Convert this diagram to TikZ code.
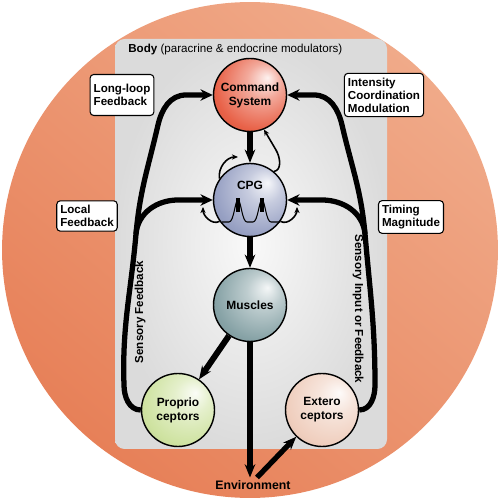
\documentclass[tikz,border=0pt]{standalone}
\usepackage{fontspec}
\setmainfont{Liberation Sans}
\usetikzlibrary{arrows.meta}

\definecolor{orangelight}{RGB}{240,170,137}
\definecolor{orangedark}{RGB}{231,128,88}
\definecolor{cmdred}{RGB}{230,84,56}
\definecolor{cpgblue}{RGB}{142,152,190}
\definecolor{musteal}{RGB}{124,154,158}
\definecolor{progreen}{RGB}{202,224,152}
\definecolor{extpeach}{RGB}{238,202,184}

\colorlet{sphere}{gray}
\pgfdeclareradialshading[sphere]{sphereshade}{\pgfpoint{12bp}{12bp}}{color(0bp)=(sphere!8!white); color(12bp)=(sphere!50!white); color(30bp)=(sphere!92!white); color(46bp)=(sphere!88!black); color(62bp)=(sphere!70!black)}

\begin{document}
\begin{tikzpicture}[x = 0.02cm, y = 0.02cm,
                    organ/.style = {circle, draw, line width = 0.8pt, minimum size = 1.46cm, inner sep = 0pt, align = center, font = \fontsize{6.8}{7.9}\selectfont\bfseries, shade, shading = sphereshade},
                    sphere color/.code = {\colorlet{sphere}{#1}},
                    tag/.style = {draw, fill = white, rounded corners = 2pt, line width = 0.6pt, align = left, inner xsep = 2pt, inner ysep = 2.5pt, font = \fontsize{6.6}{7.4}\selectfont\bfseries},
                    side text/.style = {inner sep = 0pt, font = \fontsize{6.6}{7.4}\selectfont\bfseries},
                    feedline/.style = {line width = 3pt, -{Stealth[length = 7pt, width = 6.5pt]}},
                    mainline/.style = {line width = 3pt, -{Stealth[length = 7.5pt, width = 6pt]}},
                    selfline/.style = {line width = 0.9pt, -{Stealth[length = 3.5pt, width = 3pt]}}]
                          \useasboundingbox (0,0) rectangle (500,500);
                          \shade [top color = orangelight, bottom color = orangedark, shading angle = -40] (250,250) circle (4.96cm);
                          \shade [inner color = gray!5, outer color = gray!28, rounded corners = 5.5pt] (115,51) rectangle (387,461);
                          \node (body)[anchor = west, inner sep = 0pt, font = \fontsize{6.6}{7.4}\selectfont] at (128,450) {\textbf{Body} (paracrine \& endocrine modulators)};
                          \node (cmd)[organ, sphere color = cmdred] at (250,405) {Command\\System};
                          \node (cpg)[organ, sphere color = cpgblue] at (250,300) {};
                          \node (cpgtext)[side text, font = \fontsize{6.8}{7.9}\selectfont\bfseries] at (250,315) {CPG};
                          \node (mus)[organ, sphere color = musteal] at (250,195) {Muscles};
                          \node (pro)[organ, sphere color = progreen] at (178,90) {Proprio\\ceptors};
                          \node (ext)[organ, sphere color = extpeach] at (322,90) {Extero\\ceptors};
                          \node (env)[side text, font = \fontsize{7}{8}\selectfont\bfseries, inner sep = 1.5pt] at (253,15) {Environment};
                          \node (llf)[tag, minimum height = 0.82cm] at (122,405) {Long-loop\\Feedback};
                          \node (lof)[tag] at (87,284) {Local\\Feedback};
                          \node (icm)[tag] at (384,405) {Intensity\\Coordination\\Modulation};
                          \node (tim)[tag] at (411,283) {Timing\\Magnitude};
                          \node (sfb)[side text, rotate = 90] at (140,188) {Sensory Feedback};
                          \node (sif)[side text, rotate = -90] at (358,191) {Sensory Input or Feedback};
                          \coordinate (lj) at (136,266);
                          \coordinate (rj) at (365,266);
                          \coordinate (tl) at (238,343);
                          \coordinate (bl) at (203,293);
                          \coordinate (br) at (297,293);
                          \draw [feedline] (pro.180) to[out = 180, in = -90] (124,115) to[out = 92, in = -95] (lj) to[out = 85, in = -103] (158,375) to[out = 77, in = 180] (186,405) -- (cmd.west);
                          \draw [feedline] (lj) to[out = 85, in = 180] (178,300) -- (cpg.west);
                          \draw [feedline] (ext.0) to[out = 0, in = -90] (375,115) to[out = 90, in = -85] (rj) to[out = 95, in = -77] (342,375) to[out = 103, in = 0] (314,405) -- (cmd.east);
                          \draw [feedline] (rj) to[out = 95, in = 0] (322,300) -- (cpg.east);
                          \draw [mainline] (cmd) -- (cpg);
                          \draw [mainline] (cpg) -- (mus);
                          \draw [mainline, line width = 3.4pt] (mus) -- (pro);
                          \draw [mainline] (mus) -- (mus |- env.north);
                          \draw [mainline] (env.62) -- (ext);
                          \draw [selfline] (cpg.145) to[out = 100, in = 180] (tl);
                          \draw [selfline] (cpg.50) to[out = 10, in = -60] (276,350) -- (cmd.-68);
                          \draw [selfline] (cpg.215) to[out = 210, in = -90] (bl);
                          \draw [selfline] (cpg.-35) to[out = -30, in = -90] (br);
                          \draw [line width = 0.6pt] (222,278) -- (229,278) .. controls (234,278) and (235,300) .. (238,300) .. controls (241,300) and (242,278) .. (247,278) -- (253,278) .. controls (258,278) and (259,300) .. (262,300) .. controls (265,300) and (266,278) .. (271,278) -- (280,278);
                          \fill (236,288) rectangle (240,302);
                          \fill (260,288) rectangle (264,302);
                        \end{tikzpicture}
\end{document}
